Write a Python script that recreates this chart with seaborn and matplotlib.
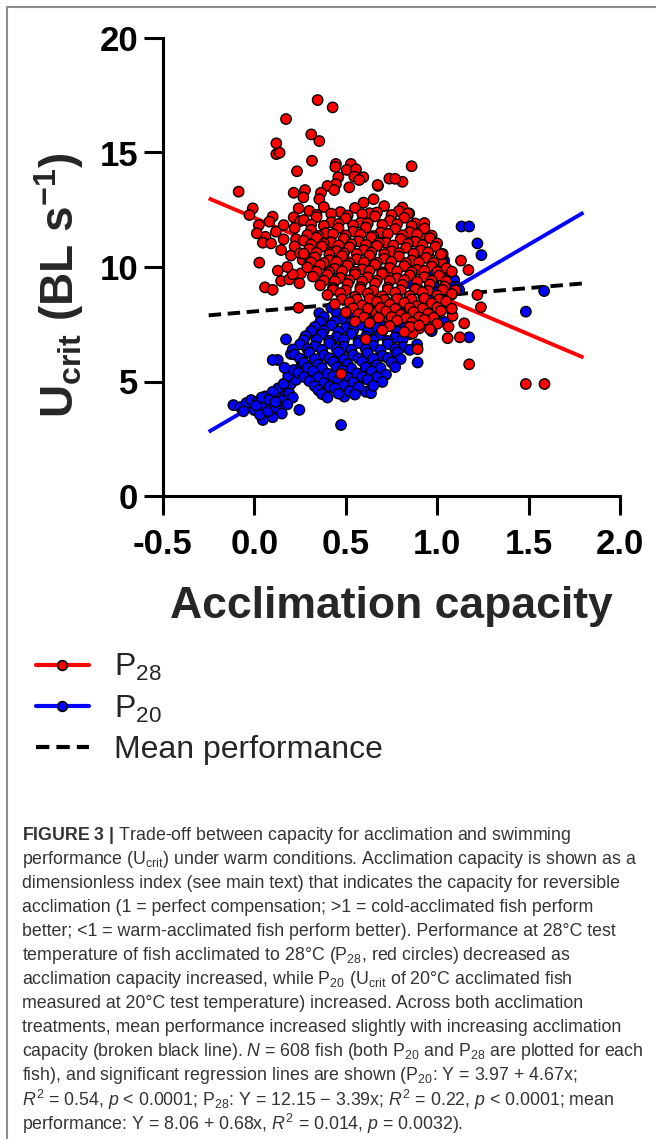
## Trade-off between acclimation capacity and swimming performance (Ucrit)
## Scatter of P20 / P28 per fish with regression lines, legend and caption

import pandas as pd
import matplotlib.pyplot as plt
from matplotlib.lines import Line2D
import seaborn as sns

##########################################################################
## 1. Data
##########################################################################

## P28: Ucrit at 28C of 28C-acclimated fish (red)
p28_points = [
    (-0.086, 13.29), (0.346, 17.29), (0.428, 16.97), (0.173, 16.46), (0.311, 15.79),
    (0.355, 15.50), (0.120, 15.40), (0.120, 14.93), (0.138, 14.99), (0.315, 14.64),
    (0.233, 14.18), (0.446, 14.50), (0.443, 14.37), (0.528, 14.50), (0.505, 14.24),
    (0.556, 14.27), (0.596, 13.92), (0.546, 13.95), (0.459, 13.92), (0.446, 13.62),
    (0.400, 13.54), (0.437, 13.36), (0.364, 13.24), (0.277, 13.36), (0.268, 13.04),
    (0.215, 13.24), (0.519, 13.48), (0.676, 13.54), (0.738, 13.86), (0.652, 12.96),
    (0.597, 12.81), (0.355, 12.96), (0.242, 12.56), (0.215, 12.17), (0.100, 12.20),
    (-0.009, 12.56), (-0.027, 12.27), (0.024, 11.83), (0.082, 11.98), (0.160, 11.83),
    (0.118, 11.54), (0.060, 11.32), (0.013, 11.47), (0.046, 11.06), (0.091, 11.03),
    (0.146, 10.74), (0.160, 11.21), (0.228, 11.21), (0.027, 10.19), (0.128, 9.84),
    (0.146, 9.39), (0.058, 9.11), (0.100, 9.00), (0.191, 9.46), (0.246, 9.29),
    (0.255, 9.72), (0.264, 10.31), (0.300, 10.19), (0.209, 9.68), (0.242, 8.22),
    (1.220, 8.78), (1.239, 8.24), (1.175, 5.75), (1.485, 4.89), (1.587, 4.89),
    (1.130, 10.28), (1.171, 9.87), (1.124, 6.93), (1.148, 7.54), (1.057, 6.89),
    (1.062, 7.39), (1.084, 7.86), (1.066, 8.20), (1.025, 10.23), (1.044, 9.87),
    (0.993, 9.58), (0.610, 6.84), (0.474, 5.33), (0.893, 6.41), (0.965, 7.54),
    (0.902, 7.32), (0.865, 7.10), (0.774, 8.09), (0.738, 7.69), (0.665, 8.00),
    (0.573, 13.80), (0.674, 13.58), (0.810, 13.72), (0.810, 12.60), (0.910, 11.40),
    (0.956, 10.45), (0.971, 10.04), (0.920, 10.52), (0.860, 14.40), (0.770, 13.85),
    (0.250, 12.00), (0.220, 11.70), (0.200, 10.50), (0.180, 10.00), (0.220, 10.90),
    (0.250, 10.60),
    (0.30, 12.45), (0.38, 12.62), (0.47, 12.40), (0.55, 12.58), (0.63, 12.35),
    (0.71, 12.66), (0.79, 12.44),
    (0.34, 12.28), (0.42, 12.33), (0.51, 12.25), (0.59, 12.31), (0.67, 12.38),
    (0.75, 12.27), (0.84, 12.34),
    (0.27, 12.05), (0.34, 12.18), (0.42, 11.96), (0.50, 12.12), (0.58, 11.93),
    (0.66, 12.21), (0.74, 12.02), (0.82, 12.15), (0.88, 11.90),
    (0.31, 11.85), (0.38, 11.80), (0.46, 11.88), (0.54, 11.82), (0.62, 11.90),
    (0.70, 11.84), (0.78, 11.87), (0.86, 11.79), (0.93, 11.92),
    (0.31, 11.62), (0.39, 11.48), (0.46, 11.70), (0.54, 11.55), (0.61, 11.72),
    (0.69, 11.50), (0.77, 11.66), (0.85, 11.52), (0.93, 11.68),
    (0.29, 11.40), (0.35, 11.36), (0.43, 11.44), (0.50, 11.38), (0.58, 11.42),
    (0.65, 11.35), (0.73, 11.45), (0.81, 11.39), (0.89, 11.43), (0.97, 11.37),
    (0.27, 11.15), (0.34, 11.28), (0.42, 11.08), (0.49, 11.24), (0.57, 11.12),
    (0.64, 11.30), (0.72, 11.06), (0.80, 11.22), (0.88, 11.10), (0.96, 11.26),
    (0.31, 10.98), (0.38, 11.02), (0.46, 10.95), (0.53, 11.00), (0.61, 10.97),
    (0.68, 11.04), (0.76, 10.94), (0.84, 11.01), (0.92, 10.96), (1.00, 11.03),
    (0.30, 10.78), (0.37, 10.90), (0.45, 10.70), (0.52, 10.86), (0.60, 10.74),
    (0.67, 10.92), (0.75, 10.68), (0.83, 10.84), (0.91, 10.72), (0.99, 10.88),
    (0.27, 10.58), (0.34, 10.62), (0.41, 10.55), (0.49, 10.60), (0.56, 10.57),
    (0.64, 10.63), (0.71, 10.56), (0.79, 10.61), (0.87, 10.58), (0.95, 10.64),
    (1.03, 10.57),
    (0.33, 10.42), (0.41, 10.30), (0.48, 10.48), (0.56, 10.34), (0.63, 10.50),
    (0.71, 10.36), (0.79, 10.46), (0.86, 10.28), (0.94, 10.40), (1.02, 10.55),
    (0.31, 10.20), (0.38, 10.18), (0.45, 10.22), (0.52, 10.16), (0.60, 10.21),
    (0.67, 10.19), (0.75, 10.23), (0.83, 10.17), (0.90, 10.20), (0.98, 10.18),
    (0.29, 9.98), (0.36, 10.08), (0.44, 9.92), (0.51, 10.06), (0.59, 9.90),
    (0.66, 10.10), (0.74, 9.96), (0.82, 10.04), (0.89, 9.88), (0.97, 10.02),
    (1.05, 9.95),
    (0.34, 9.80), (0.41, 9.78), (0.48, 9.82), (0.55, 9.79), (0.63, 9.83),
    (0.70, 9.77), (0.78, 9.81), (0.86, 9.78), (0.93, 9.84), (1.00, 9.79),
    (1.08, 9.80),
    (0.32, 9.58), (0.40, 9.66), (0.47, 9.52), (0.55, 9.68), (0.62, 9.55),
    (0.70, 9.70), (0.78, 9.50), (0.85, 9.64), (0.93, 9.56), (1.01, 9.62),
    (0.38, 9.40), (0.44, 9.38), (0.52, 9.42), (0.59, 9.37), (0.67, 9.41),
    (0.74, 9.39), (0.82, 9.43), (0.89, 9.36), (0.97, 9.40), (1.05, 9.38),
    (0.36, 9.20), (0.43, 9.08), (0.51, 9.26), (0.58, 9.12), (0.66, 9.28),
    (0.73, 9.10), (0.81, 9.22), (0.88, 9.06), (0.96, 9.24), (1.04, 9.15),
    (0.43, 9.00), (0.50, 8.98), (0.58, 9.02), (0.65, 8.97), (0.73, 9.01),
    (0.80, 8.99), (0.88, 9.03), (0.95, 8.96), (1.03, 9.00), (1.10, 8.98),
    (0.40, 8.78), (0.47, 8.86), (0.55, 8.70), (0.62, 8.84), (0.70, 8.72),
    (0.77, 8.88), (0.85, 8.74), (0.92, 8.90), (1.00, 8.76), (1.08, 8.82),
    (0.48, 8.60), (0.56, 8.58), (0.63, 8.62), (0.71, 8.57), (0.78, 8.61),
    (0.86, 8.59), (0.93, 8.63), (1.01, 8.58),
    (0.44, 8.38), (0.52, 8.46), (0.59, 8.32), (0.67, 8.48), (0.74, 8.36),
    (0.82, 8.44), (0.89, 8.30), (0.97, 8.42), (1.05, 8.50),
    (0.54, 8.20), (0.62, 8.18), (0.69, 8.22), (0.77, 8.17), (0.85, 8.21),
    (0.92, 8.19), (1.00, 8.23), (1.08, 8.18),
    (0.50, 8.02), (0.57, 7.94), (0.72, 8.06), (0.80, 7.92), (0.87, 8.04),
    (0.95, 7.96), (1.02, 8.08),
    (0.60, 7.80), (0.68, 7.78), (0.75, 7.82), (0.83, 7.77), (0.90, 7.81),
    (0.98, 7.79),
    (0.55, 7.62), (0.63, 7.55), (0.78, 7.66), (0.86, 7.58), (0.93, 7.70),
    (1.00, 7.52),
    (0.74, 7.42), (0.85, 7.38), (0.90, 7.45),
    (0.70, 7.24), (0.82, 7.16), (0.96, 7.28),
]

## P20: Ucrit at 20C of 20C-acclimated fish (blue)
p20_points = [
    (-0.115, 3.97), (-0.077, 3.88), (-0.044, 4.06), (-0.018, 4.19), (0.018, 4.12),
    (0.055, 3.97), (0.046, 3.32), (0.100, 3.44), (0.000, 3.75), (0.030, 3.55),
    (0.075, 3.70), (0.090, 4.05), (0.120, 3.85), (0.140, 4.30), (0.155, 4.19),
    (0.170, 4.60), (0.191, 4.49), (0.200, 4.90), (0.228, 5.07), (0.246, 3.76),
    (0.255, 5.65), (0.130, 4.70), (0.060, 4.35), (0.100, 4.55), (0.210, 4.30),
    (0.180, 4.00), (0.150, 3.60), (0.128, 5.94), (0.100, 5.94), (0.173, 6.84),
    (0.319, 7.17), (0.355, 7.98),
    (-0.060, 3.70), (0.010, 3.95), (0.040, 4.30), (0.080, 4.20), (0.115, 4.10),
    (0.160, 4.90), (0.185, 5.25), (0.215, 5.50), (0.165, 5.60), (0.200, 6.20),
    (0.847, 12.34), (1.133, 11.77), (1.175, 11.77), (1.220, 11.03), (1.242, 10.52),
    (1.038, 10.28), (1.066, 9.43), (1.093, 9.43), (1.102, 9.14), (1.075, 9.14),
    (1.585, 8.95), (1.485, 8.05), (1.175, 6.93), (0.893, 5.83), (1.047, 8.41),
    (0.474, 3.10), (0.492, 4.34), (0.610, 4.55), (0.638, 4.49),
    (0.95, 8.60), (1.00, 8.90), (0.98, 9.30), (1.02, 9.70), (0.90, 9.00),
    (0.95, 9.80), (0.88, 8.10), (0.92, 7.90), (1.00, 8.00), (0.97, 7.20),
    (1.04, 7.60), (1.08, 8.80), (1.12, 9.00), (0.78, 8.70), (0.72, 8.50),
    (0.84, 9.30),
    (0.42, 8.22), (0.55, 8.15), (0.68, 8.28), (0.80, 8.18),
    (0.45, 8.00), (0.52, 7.98), (0.62, 8.03), (0.72, 7.97), (0.78, 8.02),
    (0.88, 7.99),
    (0.38, 7.82), (0.48, 7.74), (0.58, 7.86), (0.66, 7.76), (0.75, 7.88),
    (0.85, 7.72), (0.93, 7.84),
    (0.36, 7.60), (0.44, 7.62), (0.53, 7.58), (0.62, 7.63), (0.70, 7.57),
    (0.79, 7.61), (0.88, 7.59),
    (0.33, 7.38), (0.42, 7.46), (0.50, 7.34), (0.58, 7.48), (0.66, 7.36),
    (0.74, 7.44), (0.82, 7.32), (0.90, 7.46),
    (0.31, 7.20), (0.38, 7.22), (0.46, 7.18), (0.54, 7.23), (0.62, 7.19),
    (0.70, 7.21), (0.78, 7.17), (0.86, 7.22),
    (0.28, 6.98), (0.37, 7.06), (0.45, 6.94), (0.53, 7.08), (0.61, 6.96),
    (0.69, 7.04), (0.77, 6.92), (0.85, 7.06),
    (0.27, 6.80), (0.34, 6.82), (0.41, 6.78), (0.49, 6.83), (0.57, 6.79),
    (0.65, 6.81), (0.73, 6.77), (0.81, 6.82),
    (0.25, 6.62), (0.33, 6.54), (0.41, 6.66), (0.49, 6.52), (0.57, 6.68),
    (0.65, 6.56), (0.73, 6.64), (0.81, 6.50), (0.89, 6.62),
    (0.21, 6.40), (0.29, 6.42), (0.37, 6.38), (0.45, 6.43), (0.53, 6.39),
    (0.61, 6.41), (0.69, 6.37), (0.77, 6.42), (0.85, 6.38),
    (0.22, 6.18), (0.30, 6.26), (0.38, 6.14), (0.46, 6.28), (0.54, 6.16),
    (0.62, 6.24), (0.70, 6.12), (0.78, 6.26),
    (0.25, 6.00), (0.33, 5.98), (0.41, 6.02), (0.49, 5.97), (0.57, 6.01),
    (0.65, 5.99), (0.73, 6.03), (0.80, 5.98),
    (0.27, 5.82), (0.35, 5.74), (0.43, 5.86), (0.51, 5.76), (0.59, 5.88),
    (0.67, 5.72), (0.75, 5.84),
    (0.29, 5.60), (0.37, 5.58), (0.45, 5.62), (0.53, 5.57), (0.61, 5.61),
    (0.69, 5.59), (0.77, 5.63),
    (0.24, 5.38), (0.32, 5.46), (0.40, 5.34), (0.48, 5.48), (0.56, 5.36),
    (0.64, 5.44), (0.72, 5.30),
    (0.27, 5.20), (0.35, 5.18), (0.43, 5.22), (0.51, 5.17), (0.59, 5.21),
    (0.67, 5.19),
    (0.30, 5.02), (0.38, 4.94), (0.46, 5.06), (0.54, 4.96), (0.62, 5.08),
    (0.70, 4.98),
    (0.33, 4.80), (0.41, 4.78), (0.49, 4.82), (0.57, 4.77), (0.65, 4.81),
    (0.35, 4.62), (0.44, 4.70), (0.52, 4.58), (0.57, 4.75),
    (0.37, 4.45), (0.46, 4.47), (0.55, 4.43),
    (0.40, 4.30),
]

## Regression lines as reported in the caption (Y = a + b x)
fit_names = ["P28", "P20", "Mean"]
fit_intercepts = [12.15, 3.97, 8.06]
fit_slopes = [-3.39, 4.67, 0.68]
fit_xrange = [-0.25, 1.8]

x_ticks = [-0.5, 0.0, 0.5, 1.0, 1.5, 2.0]
y_ticks = [0, 5, 10, 15, 20]

legend_labels = [r"P$_{28}$", r"P$_{20}$", "Mean performance"]

caption_lines = [
    r"$\mathbf{FIGURE\ 3\ |}$ Trade-off between capacity for acclimation and swimming",
    r"performance (U$_{\mathrm{crit}}$) under warm conditions. Acclimation capacity is shown as a",
    "dimensionless index (see main text) that indicates the capacity for reversible",
    "acclimation (1 = perfect compensation; >1 = cold-acclimated fish perform",
    "better; <1 = warm-acclimated fish perform better). Performance at 28°C test",
    r"temperature of fish acclimated to 28°C (P$_{28}$, red circles) decreased as",
    r"acclimation capacity increased, while P$_{20}$ (U$_{\mathrm{crit}}$ of 20°C acclimated fish",
    "measured at 20°C test temperature) increased. Across both acclimation",
    "treatments, mean performance increased slightly with increasing acclimation",
    r"capacity (broken black line). $N$ = 608 fish (both P$_{20}$ and P$_{28}$ are plotted for each",
    r"fish), and significant regression lines are shown (P$_{20}$: Y = 3.97 + 4.67x;",
    r"$R^2$ = 0.54, $p$ < 0.0001; P$_{28}$: Y = 12.15 − 3.39x; $R^2$ = 0.22, $p$ < 0.0001; mean",
    r"performance: Y = 8.06 + 0.68x, $R^2$ = 0.014, $p$ = 0.0032).",
]

##########################################################################
## 2. Prepare data frame
##########################################################################

df = pd.concat([
    pd.DataFrame(p20_points, columns=["x", "y"]).assign(group="P20"),
    pd.DataFrame(p28_points, columns=["x", "y"]).assign(group="P28"),
], ignore_index=True)

palette = {"P28": "#ff0000", "P20": "#0000ff", "Mean": "#000000"}

##########################################################################
## 3. Plot
##########################################################################

sns.set_style("ticks")
plt.rcParams["font.family"] = ["Liberation Sans", "DejaVu Sans"]
plt.rcParams["mathtext.fontset"] = "custom"
plt.rcParams["mathtext.rm"] = "Liberation Sans"
plt.rcParams["mathtext.it"] = "Liberation Sans:italic"
plt.rcParams["mathtext.bf"] = "Liberation Sans:bold"

W, H = 656, 1139
fig = plt.figure(figsize=(W / 100, H / 100), dpi=100)
ax = fig.add_axes([163 / W, 1 - 496 / H, (620 - 163) / W, (496 - 38) / H])

## regression lines (under the points)
for name, a, b in zip(fit_names, fit_intercepts, fit_slopes):
    xs = fit_xrange
    ys = [a + b * v for v in xs]
    if name == "Mean":
        ax.plot(xs, ys, color=palette[name], lw=2.8, dashes=(3.2, 1.7), zorder=2)
    else:
        ax.plot(xs, ys, color=palette[name], lw=2.8, zorder=2, solid_capstyle="butt")

sns.scatterplot(
    data=df, x="x", y="y", hue="group",
    palette=palette, hue_order=["P20", "P28"],
    s=56, edgecolor="black", linewidth=1.0,
    legend=False, ax=ax, zorder=3,
)

ax.set_xlim(-0.5, 2.0)
ax.set_ylim(0, 20)
ax.set_xticks(x_ticks)
ax.set_yticks(y_ticks)
ax.set_xticklabels([f"{v:.1f}" for v in x_ticks])
ax.set_yticklabels([str(v) for v in y_ticks])

for side in ("top", "right"):
    ax.spines[side].set_visible(False)
for side in ("left", "bottom"):
    ax.spines[side].set_linewidth(2.2)
    ax.spines[side].set_color("black")

ax.tick_params(axis="both", direction="out", length=14, width=2.2,
               labelsize=25, colors="black")
ax.tick_params(axis="y", pad=4)
ax.tick_params(axis="x", pad=9)
for lab in ax.get_xticklabels() + ax.get_yticklabels():
    lab.set_fontweight("bold")

ax.set_xlabel("Acclimation capacity", fontsize=32, fontweight="bold", labelpad=18)
ax.set_ylabel(r"$\mathbf{U_{crit}\ (BL\ s^{-1})}$", fontsize=33)
ax.yaxis.set_label_coords(-0.168, 0.46)

## legend below the plot
handles = [
    Line2D([], [], color=palette["P28"], lw=3, marker="o", markersize=7,
           markerfacecolor=palette["P28"], markeredgecolor="black", markeredgewidth=1.2),
    Line2D([], [], color=palette["P20"], lw=3, marker="o", markersize=7,
           markerfacecolor=palette["P20"], markeredgecolor="black", markeredgewidth=1.2),
    Line2D([], [], color=palette["Mean"], lw=3, dashes=(3.2, 1.7)),
]
fig.legend(
    handles, legend_labels,
    loc="upper left", bbox_to_anchor=(36 / W, 1 - 652 / H),
    frameon=False, fontsize=23, handlelength=1.65, handletextpad=0.8,
    labelspacing=0.33, borderpad=0, borderaxespad=0,
)

## caption
y0 = 836
for i, line in enumerate(caption_lines):
    fig.text(22 / W, 1 - (y0 + i * 24) / H, line, fontsize=12.8,
             color="#333333", ha="left", va="center")

## thin grey frame (top and left) around the figure panel
fig.add_artist(Line2D([7 / W, 1], [1 - 7 / H, 1 - 7 / H], color="#8c8c8c", lw=1.5,
                      transform=fig.transFigure))
fig.add_artist(Line2D([7 / W, 7 / W], [0, 1 - 7 / H], color="#8c8c8c", lw=1.5,
                      transform=fig.transFigure))

fig.savefig("out.png", dpi=100)
